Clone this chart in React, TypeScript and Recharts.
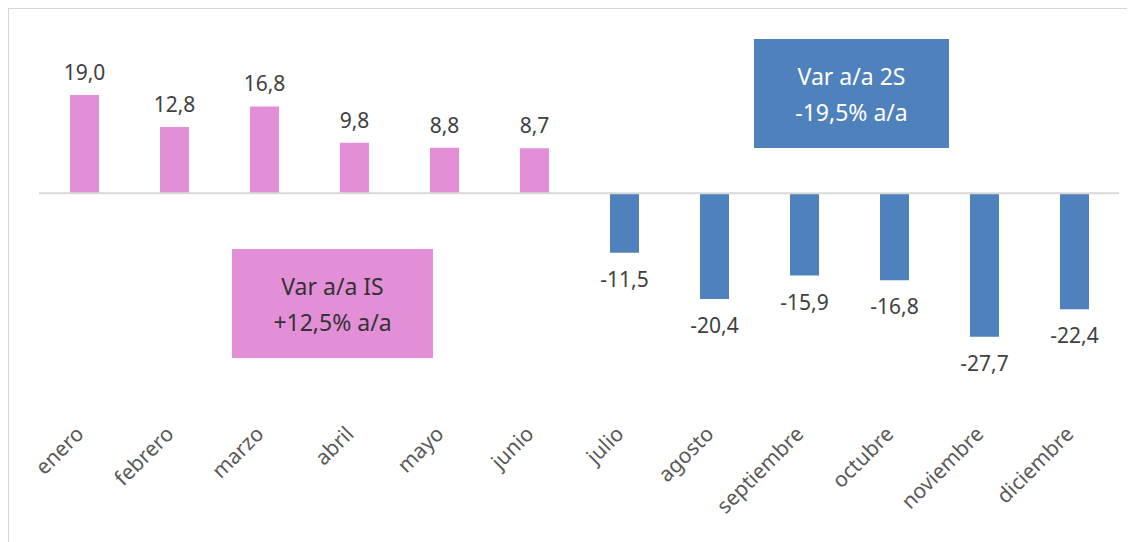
import { BarChart, Bar, XAxis, YAxis, ReferenceLine, LabelList, Cell } from 'recharts';

const months = ['enero', 'febrero', 'marzo', 'abril', 'mayo', 'junio', 'julio', 'agosto', 'septiembre', 'octubre', 'noviembre', 'diciembre'];
const values = [19.0, 12.8, 16.8, 9.8, 8.8, 8.7, -11.5, -20.4, -15.9, -16.8, -27.7, -22.4];
const semester = ['1S', '1S', '1S', '1S', '1S', '1S', '2S', '2S', '2S', '2S', '2S', '2S'];

const PINK = '#E38FD8';
const BLUE = '#4F81BD';
const FONT = '"Noto Sans", sans-serif';

const data = months.map((m, i) => ({ month: m, value: values[i], sem: semester[i] }));

const fmt = (v: number) => v.toFixed(1).replace('.', ',');

const ValueLabel = (props: any) => {
  const { x, y, width, height, value } = props;
  const top = Math.min(y, y + height);
  const bottom = Math.max(y, y + height);
  const cy = value >= 0 ? top - 15 : bottom + 34;
  return (
    <text x={x + width / 2} y={cy} textAnchor="middle" fontSize={21} fill="#404040" fontFamily={FONT}>
      {fmt(value)}
    </text>
  );
};

const MonthTick = (props: any) => {
  const { x, y, payload } = props;
  return (
    <text
      transform={`translate(${x + 1},${y + 35}) rotate(-45)`}
      textAnchor="end"
      fontSize={21}
      fill="#595959"
      fontFamily={FONT}
    >
      {payload.value}
    </text>
  );
};

const boxText = { fontFamily: FONT, fontSize: 23, lineHeight: '36px', textAlign: 'center' as const };

export default function App() {
  return (
    <div
      style={{
        position: 'relative',
        width: 1127,
        height: 534,
        borderTop: '1px solid #d6d6d6',
        borderLeft: '1px solid #d6d6d6',
        boxSizing: 'border-box',
      }}
    >
      <svg style={{ position: 'absolute', left: -1, top: -9, overflow: 'visible' }} width={600} height={12}>
        <text x={0} y={5} fontSize={19} fill="#8c8c8c" fontFamily={FONT}>
          Enero a diciembre de 2022, en % de var. real a/a
        </text>
      </svg>
      <div style={{ position: 'absolute', left: 0, top: 0 }}>
        <BarChart
          width={1127}
          height={540}
          data={data}
          margin={{ top: 55, right: 17, left: 30, bottom: 18.7 }}
        >
          <XAxis
            dataKey="month"
            axisLine={false}
            tickLine={false}
            tickSize={0}
            tickMargin={0}
            interval={0}
            height={130}
            tick={<MonthTick />}
          />
          <YAxis hide domain={[-40, 25]} />
          <ReferenceLine y={0} stroke="#d9d9d9" strokeWidth={2} />
          <Bar dataKey="value" barSize={29} isAnimationActive={false}>
            {data.map((d, i) => (
              <Cell key={i} fill={d.sem === '1S' ? PINK : BLUE} />
            ))}
            <LabelList dataKey="value" content={<ValueLabel />} />
          </Bar>
        </BarChart>
      </div>
      <div
        style={{
          position: 'absolute',
          left: 223,
          top: 240,
          width: 201,
          height: 109,
          background: PINK,
          color: '#333333',
          display: 'flex',
          flexDirection: 'column',
          justifyContent: 'center',
          ...boxText,
        }}
      >
        <div>Var a/a IS</div>
        <div>+12,5% a/a</div>
      </div>
      <div
        style={{
          position: 'absolute',
          left: 745,
          top: 30,
          width: 195,
          height: 109,
          background: BLUE,
          color: '#ffffff',
          display: 'flex',
          flexDirection: 'column',
          justifyContent: 'center',
          ...boxText,
        }}
      >
        <div>Var a/a 2S</div>
        <div>-19,5% a/a</div>
      </div>
    </div>
  );
}
